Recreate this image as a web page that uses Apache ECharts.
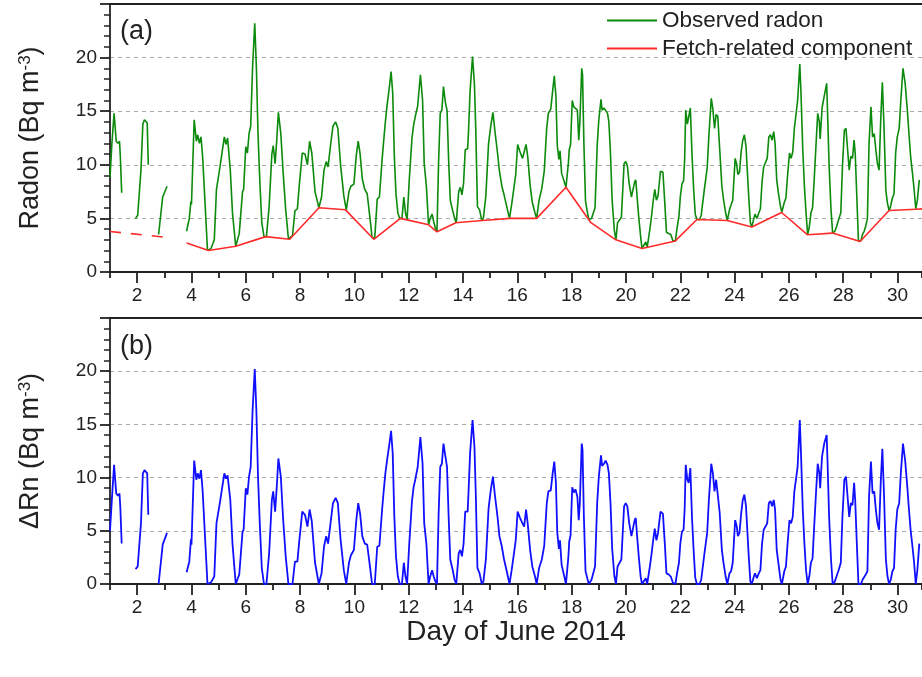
<!DOCTYPE html>
<html><head><meta charset="utf-8">
<script src="https://cdn.jsdelivr.net/npm/echarts@6/dist/echarts.min.js"></script>
<style>html,body{margin:0;padding:0;background:#fff}#c{width:922px;height:677px}</style>
</head><body><div id="c"></div>
<script>
// ---- data (day of June 2014, Bq m^-3); null = gap in record ----
const dayTicks = [2,4,6,8,10,12,14,16,18,20,22,24,26,28,30];
const radonTicks = [0,5,10,15,20];

const observedRadon = [
[1.00,8.8],[1.07,12.0],[1.15,14.8],[1.23,12.2],[1.29,12.0],[1.35,12.2],[1.38,10.8],[1.43,7.4],null,
[1.94,5.0],[2.02,5.3],[2.14,9.5],[2.21,13.8],[2.27,14.2],[2.33,14.3],[2.37,13.9],[2.41,10.0],null,
[2.79,3.5],[2.94,7.0],[3.00,7.1],[3.10,8.0],null,
[3.82,3.8],[3.92,5.0],[3.98,6.6],[4.00,6.3],[4.10,14.2],[4.18,12.2],[4.23,12.8],[4.29,12.0],[4.35,12.6],[4.41,10.8],
[4.59,2.0],[4.72,2.2],[4.84,3.0],[4.92,7.7],[5.05,9.8],[5.21,12.6],[5.27,11.9],[5.33,12.5],[5.43,9.5],[5.51,5.5],
[5.63,2.4],[5.76,3.6],[5.88,7.5],[5.92,7.7],[6.00,11.7],[6.06,11.1],[6.12,12.9],[6.18,13.6],[6.25,19.1],[6.33,23.2],
[6.39,19.1],[6.45,12.9],[6.52,8.3],[6.59,4.6],[6.67,3.3],[6.76,3.3],[6.86,6.1],[6.96,11.0],[7.01,11.8],[7.08,10.1],
[7.14,12.3],[7.20,14.9],[7.29,12.9],[7.37,9.5],[7.47,5.8],[7.57,3.1],[7.72,3.4],[7.81,5.7],[7.90,5.9],[7.96,7.8],
[8.08,11.1],[8.18,11.0],[8.27,10.0],[8.35,12.2],[8.43,11.1],[8.55,7.5],[8.69,6.0],[8.79,7.0],[8.88,9.5],[8.96,10.3],
[9.03,9.8],[9.12,11.8],[9.21,13.6],[9.31,14.0],[9.39,13.4],[9.49,10.0],[9.61,7.1],[9.70,5.8],[9.80,7.5],[9.87,8.0],
[9.98,8.2],[10.07,10.9],[10.14,12.2],[10.21,11.0],[10.29,8.7],[10.38,7.7],[10.47,7.3],[10.57,5.1],[10.65,3.2],[10.75,3.2],
[10.84,6.8],[10.92,7.0],[11.02,10.5],[11.08,12.3],[11.14,14.0],[11.20,15.5],[11.29,17.3],[11.35,18.7],[11.41,16.7],[11.47,10.8],
[11.53,7.3],[11.60,5.5],[11.67,5.0],[11.75,5.0],[11.82,7.0],[11.88,5.5],[11.94,4.9],[12.02,8.6],[12.12,12.5],[12.18,13.7],
[12.24,14.5],[12.33,15.5],[12.43,18.4],[12.51,16.0],[12.57,10.1],[12.65,8.0],[12.73,4.4],[12.79,5.0],[12.86,5.4],[12.92,4.7],
[12.98,4.1],[13.04,3.75],[13.10,10.3],[13.16,14.8],[13.22,15.1],[13.28,17.3],[13.35,15.8],[13.41,15.1],[13.47,10.4],[13.53,6.7],
[13.62,5.7],[13.69,5.0],[13.75,4.6],[13.84,7.5],[13.90,7.9],[13.96,7.2],[14.02,8.3],[14.08,11.4],[14.17,11.5],[14.20,13.0],
[14.26,16.9],[14.35,20.1],[14.42,17.5],[14.47,13.2],[14.53,6.1],[14.61,5.8],[14.69,4.8],[14.75,5.05],[14.84,7.1],[14.94,12.0],
[15.02,13.6],[15.10,14.9],[15.18,13.0],[15.27,11.1],[15.34,9.4],[15.43,8.0],[15.51,7.2],[15.61,6.1],[15.71,5.0],[15.79,6.3],
[15.86,7.6],[15.94,9.1],[16.01,11.9],[16.10,11.2],[16.19,10.6],[16.25,10.5],[16.32,11.9],[16.38,10.8],[16.47,8.1],[16.55,6.5],
[16.65,5.5],[16.71,5.0],[16.80,6.7],[16.90,7.8],[16.99,9.4],[17.08,13.4],[17.14,14.8],[17.23,15.2],[17.30,16.9],[17.36,18.3],
[17.42,16.4],[17.47,11.8],[17.53,10.5],[17.57,11.3],[17.63,9.2],[17.73,8.4],[17.79,7.9],[17.88,10.2],[17.91,11.4],[17.96,11.9],
[18.02,16.0],[18.08,15.4],[18.14,15.5],[18.21,15.1],[18.26,12.3],[18.30,13.9],[18.37,19.0],[18.40,18.4],[18.45,12.0],[18.51,6.6],
[18.57,5.7],[18.63,4.9],[18.73,5.0],[18.86,6.0],[18.94,11.8],[19.00,14.2],[19.08,16.1],[19.12,15.1],[19.19,15.3],[19.25,15.2],
[19.32,14.8],[19.37,14.0],[19.43,11.0],[19.49,6.7],[19.57,3.9],[19.63,3.0],[19.69,4.6],[19.75,4.7],[19.83,5.1],[19.93,10.1],
[19.99,10.3],[20.05,9.9],[20.12,8.2],[20.20,7.0],[20.26,7.1],[20.32,8.4],[20.36,8.6],[20.41,7.0],[20.47,5.1],[20.54,3.3],
[20.59,2.2],[20.73,2.8],[20.78,2.3],[20.88,4.0],[20.94,5.2],[21.00,6.6],[21.06,7.7],[21.12,6.7],[21.18,7.1],[21.27,9.4],
[21.33,9.5],[21.36,9.3],[21.43,6.4],[21.49,3.7],[21.57,3.6],[21.65,3.5],[21.73,2.9],[21.82,2.9],[21.88,4.1],[21.95,5.2],
[22.00,7.0],[22.06,8.2],[22.12,8.5],[22.16,10.5],[22.20,15.1],[22.26,13.8],[22.31,13.7],[22.37,15.3],[22.43,11.0],[22.49,7.8],
[22.55,5.4],[22.61,4.9],[22.71,4.9],[22.77,5.3],[22.89,7.8],[22.99,9.7],[23.05,12.6],[23.14,16.2],[23.20,15.2],[23.26,13.4],
[23.32,14.7],[23.38,14.5],[23.45,11.5],[23.53,8.0],[23.59,6.8],[23.67,5.5],[23.73,4.8],[23.81,5.8],[23.87,5.9],[23.93,6.7],
[24.02,10.6],[24.08,10.0],[24.12,9.1],[24.18,9.3],[24.24,11.2],[24.30,12.3],[24.36,12.8],[24.42,11.7],[24.46,9.8],[24.52,7.0],
[24.58,4.6],[24.63,4.2],[24.71,5.0],[24.75,5.4],[24.82,5.0],[24.89,5.5],[24.95,5.9],[25.01,8.4],[25.07,9.8],[25.13,9.8],
[25.20,10.6],[25.26,12.6],[25.32,12.8],[25.38,12.3],[25.44,13.1],[25.49,12.0],[25.55,8.6],[25.61,7.4],[25.69,6.1],[25.74,5.6],
[25.83,6.5],[25.89,6.9],[25.95,9.0],[26.02,11.1],[26.08,10.6],[26.14,11.2],[26.20,13.4],[26.26,13.3],[26.32,16.0],[26.40,19.4],
[26.44,17.0],[26.51,11.4],[26.57,8.0],[26.63,5.5],[26.69,3.5],[26.75,4.2],[26.81,5.5],[26.87,6.0],[26.93,8.6],[27.00,12.0],
[27.06,14.8],[27.12,14.0],[27.15,12.4],[27.22,15.3],[27.30,16.4],[27.39,17.6],[27.42,15.1],[27.48,9.9],[27.55,5.8],[27.61,3.6],
[27.69,3.8],[27.75,4.2],[27.83,4.9],[27.91,5.5],[27.97,9.8],[28.04,13.2],[28.10,13.4],[28.16,13.4],[28.22,9.5],[28.28,10.8],
[28.34,10.6],[28.40,12.3],[28.44,11.1],[28.50,7.0],[28.56,2.9],[28.65,2.9],[28.71,3.5],[28.77,3.8],[28.83,4.3],[28.89,5.0],
[28.95,12.0],[29.02,15.4],[29.08,12.6],[29.14,12.9],[29.20,11.4],[29.26,10.1],[29.32,9.5],[29.38,14.2],[29.44,17.7],[29.50,13.6],
[29.57,7.6],[29.63,6.4],[29.69,5.7],[29.75,6.2],[29.81,6.9],[29.87,7.3],[29.93,11.1],[29.99,12.6],[30.06,13.4],[30.12,16.0],
[30.20,19.0],[30.28,17.6],[30.36,15.1],[30.42,12.9],[30.48,10.8],[30.55,9.2],[30.61,7.7],[30.67,5.9],[30.73,6.7],[30.80,8.6]
];

const deltaRn = [
[1.00,5.0],[1.07,8.0],[1.15,11.2],[1.23,8.5],[1.29,8.3],[1.35,8.5],[1.38,7.2],[1.43,3.8],null,
[1.94,1.4],[2.02,1.65],[2.14,5.7],[2.21,10.4],[2.27,10.7],[2.33,10.8],[2.37,10.4],[2.41,6.5],null,
[2.79,0],[2.94,3.7],[3.00,3.8],[3.10,4.8],null,
[3.82,1.1],[3.92,2.1],[3.98,4.2],[4.00,3.7],[4.10,11.6],[4.18,9.8],[4.23,10.4],[4.29,9.9],[4.35,10.7],[4.41,8.8],
[4.59,0],[4.72,0.15],[4.84,0.7],[4.92,5.7],[5.05,7.7],[5.21,10.4],[5.27,9.9],[5.33,10.2],[5.43,7.9],[5.51,3.8],
[5.63,0],[5.76,0.9],[5.88,4.9],[5.92,5.1],[6.00,9.0],[6.06,8.4],[6.12,10.1],[6.18,11.0],[6.25,16.3],[6.33,20.2],
[6.39,16.3],[6.45,10.1],[6.52,5.4],[6.59,1.5],[6.67,0],[6.76,0],[6.86,2.9],[6.96,7.9],[7.01,8.7],[7.08,6.8],
[7.14,9.1],[7.20,11.8],[7.29,10.1],[7.37,6.3],[7.47,2.6],[7.57,0],[7.72,0],[7.81,2.1],[7.90,2.1],[7.96,3.8],
[8.08,6.8],[8.18,6.5],[8.27,5.4],[8.35,7.0],[8.43,5.9],[8.55,2.0],[8.69,0],[8.79,1.0],[8.88,3.5],[8.96,4.5],
[9.03,3.8],[9.12,5.7],[9.21,7.6],[9.31,8.1],[9.39,7.6],[9.49,4.2],[9.61,1.3],[9.70,0],[9.80,2.0],[9.87,2.7],
[9.98,3.2],[10.07,6.0],[10.14,7.6],[10.21,6.6],[10.29,4.5],[10.38,3.8],[10.47,3.7],[10.57,1.7],[10.65,0],[10.75,0],
[10.84,3.5],[10.92,3.6],[11.02,7.0],[11.08,8.8],[11.14,10.4],[11.20,11.6],[11.29,13.2],[11.35,14.4],[11.41,12.3],[11.47,6.3],
[11.53,2.6],[11.60,0.7],[11.67,0],[11.75,0],[11.82,2.0],[11.88,0.7],[11.94,0],[12.02,3.8],[12.12,7.8],[12.18,9.1],
[12.24,9.8],[12.33,11.0],[12.43,13.8],[12.51,11.3],[12.57,5.7],[12.65,3.8],[12.73,0],[12.79,0.7],[12.86,1.3],[12.92,0.7],
[12.98,0.25],[13.04,0],[13.10,6.5],[13.16,11.0],[13.22,11.3],[13.28,13.2],[13.35,12.0],[13.41,11.0],[13.47,6.3],[13.53,2.3],
[13.62,1.3],[13.69,0.4],[13.75,0],[13.84,2.9],[13.90,3.2],[13.96,2.6],[14.02,3.8],[14.08,6.8],[14.17,6.8],[14.20,8.5],
[14.26,12.3],[14.35,15.4],[14.42,12.9],[14.47,8.4],[14.53,1.5],[14.61,1.0],[14.69,0],[14.75,0.25],[14.84,2.3],[14.94,7.1],
[15.02,8.8],[15.10,10.1],[15.18,8.2],[15.27,6.3],[15.34,4.5],[15.43,3.5],[15.51,2.3],[15.61,1.2],[15.71,0],[15.79,1.3],
[15.86,2.6],[15.94,4.1],[16.01,6.8],[16.10,6.2],[16.19,5.7],[16.25,5.4],[16.32,7.0],[16.38,5.7],[16.47,3.2],[16.55,1.65],
[16.65,0.7],[16.71,0],[16.80,1.5],[16.90,2.3],[16.99,3.6],[17.08,7.5],[17.14,8.7],[17.23,8.8],[17.30,10.4],[17.36,11.5],
[17.42,9.5],[17.47,4.8],[17.53,3.3],[17.57,4.1],[17.63,1.8],[17.73,0.7],[17.79,0],[17.88,2.6],[17.91,4.0],[17.96,4.6],
[18.02,9.1],[18.08,8.6],[18.14,8.9],[18.21,8.2],[18.26,6.0],[18.30,7.6],[18.37,13.2],[18.40,12.6],[18.45,6.3],[18.51,1.2],
[18.57,0.6],[18.63,0],[18.73,0.4],[18.86,1.65],[18.94,7.6],[19.00,10.1],[19.08,12.1],[19.12,11.1],[19.19,11.3],[19.25,11.6],
[19.32,11.2],[19.37,10.4],[19.43,7.6],[19.49,3.4],[19.57,0.8],[19.63,0],[19.69,1.65],[19.75,1.8],[19.83,2.3],[19.93,7.3],
[19.99,7.6],[20.05,7.3],[20.12,5.7],[20.20,4.5],[20.26,4.6],[20.32,6.0],[20.36,6.2],[20.41,4.5],[20.47,2.6],[20.54,0.7],
[20.59,0],[20.73,0.55],[20.78,0],[20.88,1.65],[20.94,2.8],[21.00,4.1],[21.06,5.2],[21.12,4.1],[21.18,4.8],[21.27,6.8],
[21.33,6.8],[21.36,6.6],[21.43,3.8],[21.49,1.0],[21.57,0.9],[21.65,0.7],[21.73,0.1],[21.82,0],[21.88,1.0],[21.95,2.0],
[22.00,3.8],[22.06,4.9],[22.12,5.1],[22.16,7.0],[22.20,11.2],[22.26,9.8],[22.31,9.5],[22.37,10.9],[22.43,6.3],[22.49,3.2],
[22.55,0.6],[22.61,0],[22.71,0],[22.77,0.4],[22.89,2.9],[22.99,4.8],[23.05,7.8],[23.14,11.3],[23.20,10.4],[23.26,8.7],
[23.32,9.8],[23.38,9.9],[23.45,6.7],[23.53,3.2],[23.59,2.0],[23.67,0.7],[23.73,0],[23.81,1.0],[23.87,1.2],[23.93,2.0],
[24.02,6.0],[24.08,5.4],[24.12,4.5],[24.18,4.8],[24.24,6.6],[24.30,7.9],[24.36,8.4],[24.42,7.3],[24.46,5.4],[24.52,2.6],
[24.58,0.25],[24.63,0],[24.71,0.7],[24.75,1.0],[24.82,0.55],[24.89,1.0],[24.95,1.3],[25.01,3.8],[25.07,5.1],[25.13,5.1],
[25.20,5.7],[25.26,7.6],[25.32,7.8],[25.38,7.3],[25.44,7.9],[25.49,7.0],[25.55,3.2],[25.61,2.0],[25.69,0.4],[25.74,0],
[25.83,1.2],[25.89,1.65],[25.95,3.8],[26.02,6.0],[26.08,5.7],[26.14,6.3],[26.20,8.7],[26.26,8.8],[26.32,11.0],[26.40,15.4],
[26.44,12.6],[26.51,7.0],[26.57,3.8],[26.63,1.3],[26.69,0],[26.75,0.7],[26.81,2.0],[26.87,2.4],[26.93,5.4],[27.00,8.7],
[27.06,11.3],[27.12,10.4],[27.15,9.0],[27.22,12.0],[27.30,13.2],[27.39,14.0],[27.42,11.6],[27.48,6.3],[27.55,2.3],[27.61,0],
[27.69,0.25],[27.75,0.7],[27.83,1.3],[27.91,2.0],[27.97,6.3],[28.04,9.8],[28.10,10.1],[28.16,10.2],[28.22,6.3],[28.28,7.6],
[28.34,7.4],[28.40,9.5],[28.44,7.9],[28.50,3.8],[28.56,0],[28.65,0],[28.71,0.4],[28.77,0.5],[28.83,0.9],[28.89,1.2],
[28.95,8.2],[29.02,11.5],[29.08,8.5],[29.14,8.7],[29.20,7.0],[29.26,5.7],[29.32,5.1],[29.38,9.5],[29.44,12.7],[29.50,8.5],
[29.57,2.3],[29.63,0.7],[29.69,0],[29.75,0.4],[29.81,1.2],[29.87,1.5],[29.93,5.1],[29.99,7.0],[30.06,7.6],[30.12,10.4],
[30.20,13.2],[30.28,11.6],[30.36,9.1],[30.42,7.0],[30.48,5.1],[30.55,3.5],[30.61,2.0],[30.67,0],[30.73,1.3],[30.80,3.8]
];

const fetchRelated = [
[3.82,2.7],[4.63,2.0],[5.63,2.4],[6.735,3.3],[7.617,3.05],[8.694,6.0],[9.673,5.8],[10.714,3.05],[11.693,5.0],
[12.733,4.4],[13.039,3.75],[13.737,4.6],[14.716,4.8],[15.732,5.0],[16.712,5.0],[17.79,7.9],[18.708,4.6],[19.626,3.0],
[20.593,2.2],[21.817,2.9],[22.612,4.9],[23.726,4.8],[24.632,4.2],[25.73,5.55],[26.689,3.47],[27.607,3.63],[28.62,2.85],
[29.688,5.74],[30.667,5.86],[31.0,5.9]
];
const fetchRelatedGap = [[1.0,3.78],[3.06,3.24]];

// ---- chart ----
const FONT = '"Liberation Sans", Arial, Helvetica, sans-serif';
const INK = '#222';
const toSeries = arr => arr.map(p => p === null ? ['-', '-'] : p);

function xAxesFor(gridIndex, withName) {
  const base = {type: 'value', gridIndex, min: 1, max: 30.9, splitLine: {show: false}};
  const main = Object.assign({}, base, {
    position: 'bottom',
    axisLine: {show: true, onZero: false, lineStyle: {color: INK, width: 1.8}},
    axisTick: {show: true, inside: false, length: 11, customValues: dayTicks, lineStyle: {color: INK, width: 1.8}},
    axisLabel: {show: true, customValues: dayTicks, fontSize: 19, color: INK, fontFamily: FONT, margin: 14}
  });
  if (withName) {
    Object.assign(main, {name: 'Day of June 2014', nameLocation: 'middle', nameGap: 34,
      nameTextStyle: {fontSize: 28, color: INK, fontFamily: FONT}});
  }
  const minor = Object.assign({}, base, {
    position: 'bottom', interval: 2,
    axisLine: {show: false},
    axisTick: {show: true, length: 6, lineStyle: {color: INK, width: 1.8}},
    axisLabel: {show: false}
  });
  const top = Object.assign({}, base, {
    position: 'top',
    axisLine: {show: true, onZero: false, lineStyle: {color: INK, width: 1.8}},
    axisTick: {show: false}, axisLabel: {show: false}
  });
  return [main, minor, top];
}

function yAxisFor(gridIndex, label) {
  return {
    type: 'value', gridIndex, min: 0, max: 25, interval: 5,
    name: '{t|' + label + ' (Bq m}{s|-3}{t|)}',
    nameLocation: 'middle', nameGap: 66, nameRotate: 90,
    nameTextStyle: {rich: {
      t: {fontSize: 27, color: INK, fontFamily: FONT},
      s: {fontSize: 17, color: INK, fontFamily: FONT, verticalAlign: 'top'}
    }},
    axisLine: {show: true, onZero: false, lineStyle: {color: INK, width: 1.8}},
    axisTick: {show: true, inside: false, length: 10, lineStyle: {color: INK, width: 1.8}},
    minorTick: {show: true, splitNumber: 5, length: 6, lineStyle: {color: INK, width: 1.5}},
    axisLabel: {show: true, customValues: radonTicks, fontSize: 19, color: INK, fontFamily: FONT, margin: 13},
    splitLine: {show: true, lineStyle: {color: '#aaa', type: [4, 4], width: 1}},
    minorSplitLine: {show: false}
  };
}

const chart = echarts.init(document.getElementById('c'));
chart.setOption({
  animation: false,
  backgroundColor: '#fff',
  grid: [
    {left: 110, top: 4, width: 815, height: 268},
    {left: 110, top: 318, width: 815, height: 266}
  ],
  xAxis: [].concat(xAxesFor(0, false), xAxesFor(1, true)),
  yAxis: [yAxisFor(0, 'Radon'), yAxisFor(1, 'ΔRn')],
  legend: {
    orient: 'vertical', left: 602, top: 4, icon: 'rect', itemWidth: 50, itemHeight: 2, itemGap: 5,
    textStyle: {fontSize: 22.5, color: INK, fontFamily: FONT},
    data: ['Observed radon', 'Fetch-related component']
  },
  graphic: [
    {type: 'text', left: 120, top: 18, style: {text: '(a)', font: '27px ' + FONT, fill: INK}},
    {type: 'text', left: 120, top: 333, style: {text: '(b)', font: '27px ' + FONT, fill: INK}}
  ],
  series: [
    {name: 'Observed radon', type: 'line', xAxisIndex: 0, yAxisIndex: 0, data: toSeries(observedRadon),
     symbol: 'none', connectNulls: false, lineStyle: {color: '#0b8a0b', width: 1.6}, itemStyle: {color: '#0b8a0b'}, z: 2},
    {name: 'Fetch-related component', type: 'line', xAxisIndex: 0, yAxisIndex: 0, data: fetchRelated,
     symbol: 'none', lineStyle: {color: '#ff2a2a', width: 1.6}, itemStyle: {color: '#ff2a2a'}, z: 3},
    {name: 'Fetch-related component', type: 'line', xAxisIndex: 0, yAxisIndex: 0, data: fetchRelatedGap,
     symbol: 'none', lineStyle: {color: '#ff2a2a', width: 1.6, type: [11, 10]}, itemStyle: {color: '#ff2a2a'}, z: 3},
    {name: 'ΔRn', type: 'line', xAxisIndex: 3, yAxisIndex: 1, data: toSeries(deltaRn),
     symbol: 'none', connectNulls: false, lineStyle: {color: '#1010ff', width: 1.8}, itemStyle: {color: '#1010ff'}, z: 2}
  ]
});
</script></body></html>
